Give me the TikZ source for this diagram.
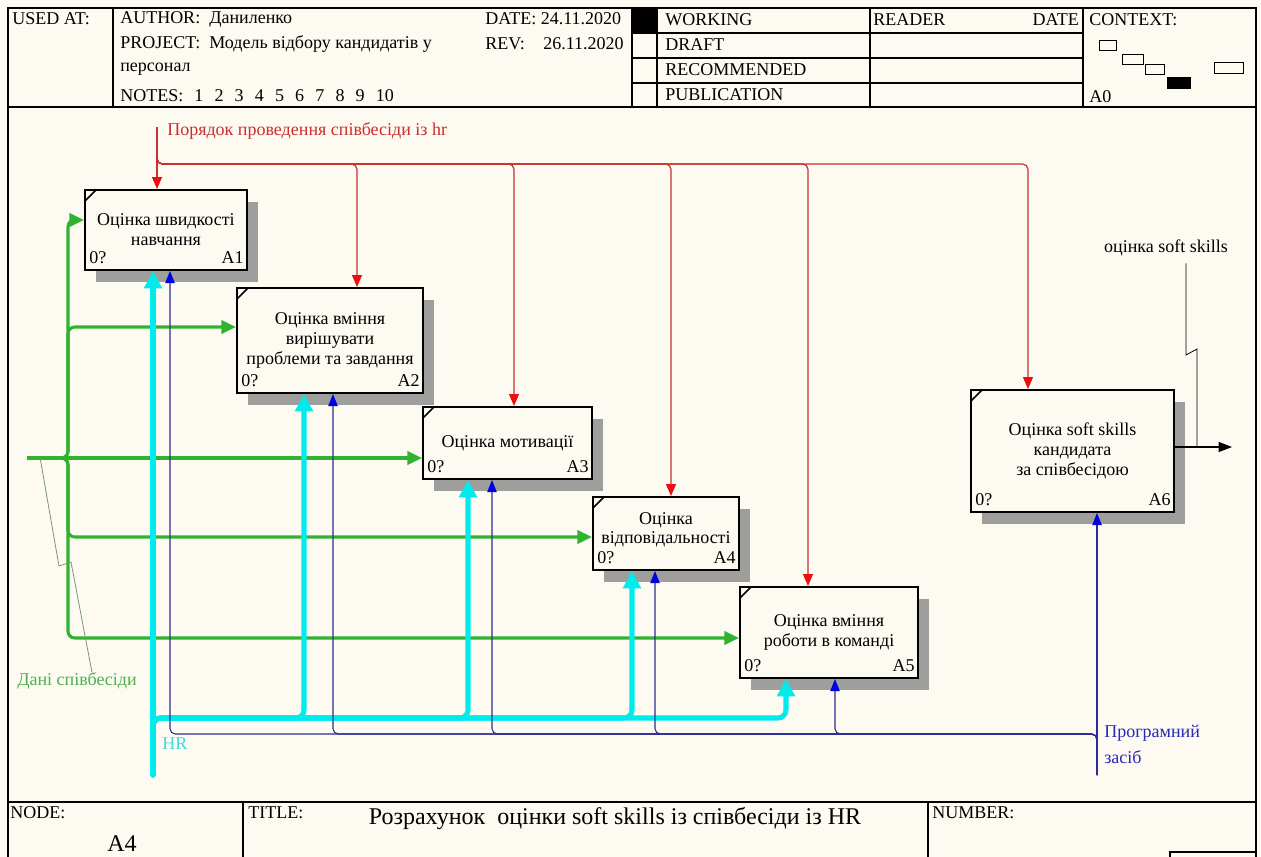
\documentclass[tikz,border=0pt]{standalone}
\usepackage{fontspec}
\setmainfont{Liberation Serif}
\usetikzlibrary{arrows.meta,calc,shadows}

\definecolor{paper}{RGB}{253,250,241}
\definecolor{ctrlline}{RGB}{200,50,50}
\definecolor{ctrlhead}{RGB}{235,15,15}
\definecolor{ctrltext}{RGB}{205,45,45}
\definecolor{inpline}{RGB}{48,180,48}
\definecolor{inptext}{RGB}{80,175,80}
\definecolor{inplead}{RGB}{120,150,120}
\definecolor{hrcyan}{RGB}{0,236,236}
\definecolor{hrtext}{RGB}{60,220,220}
\definecolor{toolline}{RGB}{45,45,150}
\definecolor{toolhead}{RGB}{0,0,225}
\definecolor{tooltext}{RGB}{40,40,185}
\definecolor{shade}{RGB}{158,158,156}

\newcommand\gapnum{\hspace{0.62em}}

\tikzset{
  txt/.style={font=\fontsize{13.5}{15}\selectfont, inner sep=0pt},
  hdr/.style={txt, anchor=west},
  big/.style={font=\fontsize{18}{20}\selectfont, inner sep=0pt},
  frameline/.style={line width=2pt},
  gridline/.style={line width=1pt},
  activity/.style={draw, line width=1.5pt, fill=paper, inner sep=2pt, align=center,
     font=\fontsize{13.5}{15}\selectfont,
     drop shadow={shadow xshift=8.5pt, shadow yshift=-9pt, fill=shade, opacity=1}},
  boxtext/.style={align=center, inner sep=0pt, font=\fontsize{13.5}{14.5}\selectfont},
  boxnum/.style={txt, anchor=base east},
  boxcost/.style={txt, anchor=base west},
  ctrl/.style={draw=ctrlline, line width=0.9pt, rounded corners=4pt,
     -{Triangle[length=9pt,width=7.5pt,color=ctrlhead]}},
  inp/.style={draw=inpline, line width=2.3pt, rounded corners=5pt,
     -{Triangle[length=11pt,width=10pt]}},
  hr/.style={draw=hrcyan, line width=3.8pt, rounded corners=6pt, line cap=round,
     -{Triangle[length=13pt,width=13pt]}},
  tool/.style={draw=toolline, line width=0.8pt, rounded corners=4pt,
     -{Triangle[length=9pt,width=7pt,color=toolhead]}},
  outp/.style={draw=black, line width=0.8pt, -{Triangle[length=10pt,width=7.5pt]}},
  lead/.style={line width=0.6pt},
}

\begin{document}
\begin{tikzpicture}[x=0.75pt,y=-0.75pt]
\useasboundingbox (0,0) rectangle (1261,857);
\fill[paper] (0,0) rectangle (1261,857);

% ---------- sheet frame ----------
\draw[frameline] (8,8) -- (1256,8);
\draw[frameline] (8,7) -- (8,862);
\draw[frameline] (1256,7) -- (1256,862);

% ---------- header ----------
\draw[gridline] (8,107) -- (1256,107);
\foreach \x in {113,632,657,870,1083} \draw[gridline] (\x,8) -- (\x,107);
\foreach \y in {33,58,83} \draw[gridline] (632,\y) -- (1083,\y);
\fill (632,8) rectangle (657,33);

\node[hdr] (usedat) at (12,19) {USED AT:};
\node[hdr] (author) at (120,19) {AUTHOR:\ \ Даниленко};
\node[hdr] (project) at (120,44) {PROJECT:\ \ Модель відбору кандидатів у};
\node[hdr] (project2) at (120,69) {персонал};
\node[hdr] (notes) at (120,96) {NOTES:\gapnum 1\gapnum 2\gapnum 3\gapnum 4\gapnum 5\gapnum 6\gapnum 7\gapnum 8\gapnum 9\gapnum 10};
\node[hdr] (datek) at (485,19) {DATE: 24.11.2020};
\node[hdr] (revk) at (485,44) {REV:};
\node[txt, anchor=east] (revv) at (624,44) {26.11.2020};
\node[hdr] (working) at (665,20) {WORKING};
\node[hdr] (draft) at (665,45) {DRAFT};
\node[hdr] (recomm) at (665,70) {RECOMMENDED};
\node[hdr] (publ) at (665,95) {PUBLICATION};
\node[hdr] (reader) at (873,20) {READER};
\node[txt, anchor=east] (rdate) at (1079,20) {DATE};
\node[hdr] (context) at (1089,20) {CONTEXT:};
\node[hdr] (ctxnode) at (1089,97) {A0};

% context thumbnail
\draw[line width=0.7pt] (1099,40) rectangle (1116,50);
\draw[line width=0.7pt] (1122,54) rectangle (1143,64);
\draw[line width=0.7pt] (1145,64) rectangle (1164,74);
\fill (1167,77) rectangle (1191,89);
\draw[line width=0.7pt] (1214,62) rectangle (1243,73);

% ---------- footer ----------
\draw[gridline] (8,802) -- (1256,802);
\draw[gridline] (243,802) -- (243,862);
\draw[gridline] (928,802) -- (928,862);
\draw[gridline] (1170,862) |- (1256,852);
\node[hdr] (nodek) at (10,813) {NODE:};
\node[big] (nodev) at (122,844) {A4};
\node[hdr] (titlek) at (248,813) {TITLE:};
\node[big] (titlev) at (615,818) {Розрахунок\ \ оцінки soft skills із співбесіди із HR};
\node[hdr] (numberk) at (932,813) {NUMBER:};

% ---------- activities ----------
\node[activity, minimum width=121.5pt, minimum height=60pt] (A1) at (166,230)
  {Оцінка швидкості\\навчання};
\node[activity, minimum width=139.5pt, minimum height=78.75pt] (A2) at (330,340.5)
  {Оцінка вміння\\вирішувати\\проблеми та завдання};
\node[activity, minimum width=126.75pt, minimum height=54pt] (A3) at (507.5,443)
  {Оцінка мотивації};
\node[activity, minimum width=109.5pt, minimum height=54.75pt] (A4) at (666,533.5) {};
\node[boxtext] (A4txt) at ($(A4.center)+(0,-4)$) {Оцінка\\відповідальності};
\node[activity, minimum width=133.5pt, minimum height=68.25pt] (A5) at (829,632.5)
  {Оцінка вміння\\роботи в команді};
\node[activity, minimum width=152.25pt, minimum height=91.5pt] (A6) at (1072.5,451)
  {Оцінка soft skills\\кандидата\\за співбесідою};

\foreach \b in {A1,A2,A3,A4,A5,A6} {
  \node[boxcost] (cost\b) at ($(\b.south west)+(5,-8)$) {0?};
  \node[boxnum] (num\b) at ($(\b.south east)+(-4,-8)$) {\b};
  \draw[line width=1.1pt] ($(\b.north west)+(1,12)$) -- ($(\b.north west)+(12,1)$);
}

% ---------- control: interview procedure ----------
\coordinate (csrc) at (157,127);
\coordinate (cbus) at (0,164);
\node[txt, anchor=west, text=ctrltext] (ctrllbl) at (167,131)
  {Порядок проведення співбесіди із hr};
\draw[ctrl] (csrc) -- (csrc |- A1.north);
\foreach \b/\dx in {A2/27, A3/6.5, A4/5, A5/-21, A6/-44.5} {
  \coordinate (c\b) at ($(\b.north)+(\dx,0)$);
  \draw[ctrl] (csrc) |- (c\b |- cbus) -- (c\b);
}

% ---------- input: interview data ----------
\coordinate (isrc) at (27,458);
\coordinate (ijn) at (68,458);
\node[txt, text=inptext] (inlbl) at (77,681) {Дані співбесіди};
\draw[inp] (isrc) -- ($(A3.west)+(0,15)$);
\foreach \b/\dy in {A1/-10, A2/-13.5, A4/3.5, A5/5.5} {
  \coordinate (i\b) at ($(\b.west)+(0,\dy)$);
  \draw[inp] (isrc) -- (ijn) |- (i\b);
}
\coordinate (ilead) at ($(isrc)!0.32!(ijn)$);
\draw[inplead, lead] (ilead) -- (59,566) -- (71,562) -- ($(inlbl.north)+(15,0)$);

% ---------- mechanism: HR ----------
\coordinate (msrc) at (153,775);
\coordinate (mbus) at (0,718);
\node[txt, text=hrtext] (hrlbl) at (175,744) {HR};
\draw[hr] (msrc) -- (msrc |- A1.south);
\foreach \b/\dx in {A2/-26, A3/-39.5, A4/-34, A5/-43} {
  \coordinate (m\b) at ($(\b.south)+(\dx,0)$);
  \draw[hr] (msrc) |- (m\b |- mbus) -- (m\b);
}

% ---------- mechanism: software ----------
\coordinate (tsrc) at (1097,775);
\coordinate (tbus) at (0,734);
\node[txt, text=tooltext, align=left, anchor=west, font=\fontsize{13.5}{19.5}\selectfont]
  (toollbl) at (1104,744) {Програмний\\засіб};
\draw[tool] (tsrc) -- (tsrc |- A6.south);
\foreach \b/\dx in {A1/4, A2/3, A3/-15.5, A4/-11, A5/6} {
  \coordinate (t\b) at ($(\b.south)+(\dx,0)$);
  \draw[tool] (tsrc) |- (t\b |- tbus) -- (t\b);
}

% ---------- output ----------
\node[txt] (outlbl) at (1166,248) {оцінка soft skills};
\coordinate (oend) at (1232,447);
\coordinate (ostart) at ($(A6.east)+(0,-4)$);
\draw[outp] (ostart) -- (oend);
\coordinate (oknee) at (1197,447);
\draw[lead] ($(outlbl.south)+(20,7)$) -- (1186,355) -- (1197,349) -- (oknee);
\end{tikzpicture}
\end{document}
